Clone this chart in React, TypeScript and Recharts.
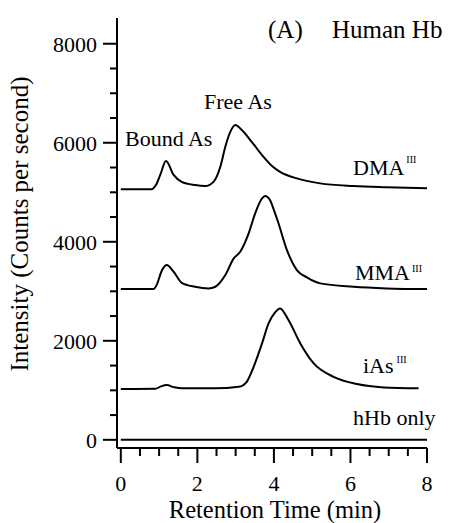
import { LineChart, Line, XAxis, YAxis } from 'recharts'

const FONT = 'Liberation Serif'

// retention time (min) / intensity (counts per second)
const dmaTime = [0, 0.8, 0.92, 1.03, 1.18, 1.38, 1.59, 1.94, 2.2, 2.42, 2.6, 2.73, 2.86, 2.99, 3.16, 3.42, 3.69, 3.95, 4.16, 4.6, 5.21, 6.08, 6.95, 8]
const dmaCounts = [5060, 5060, 5150, 5350, 5630, 5350, 5210, 5145, 5125, 5210, 5515, 5920, 6220, 6360, 6260, 6020, 5750, 5530, 5414, 5280, 5180, 5125, 5100, 5080]

const mmaTime = [0, 0.85, 0.95, 1.05, 1.2, 1.38, 1.59, 1.94, 2.29, 2.47, 2.73, 2.95, 3.12, 3.34, 3.51, 3.69, 3.77, 3.9, 4.0, 4.1, 4.34, 4.6, 4.86, 5.21, 6.08, 6.95, 8]
const mmaCounts = [3045, 3045, 3150, 3380, 3530, 3395, 3172, 3092, 3059, 3092, 3328, 3665, 3800, 4170, 4574, 4877, 4924, 4840, 4640, 4420, 3833, 3429, 3281, 3160, 3092, 3059, 3045]

const iasTime = [0, 0.9, 1.05, 1.2, 1.4, 1.6, 2.47, 3.08, 3.29, 3.47, 3.69, 3.86, 4.02, 4.16, 4.38, 4.69, 5.04, 5.56, 6.17, 6.87, 7.78]
const iasCounts = [1025, 1030, 1080, 1105, 1060, 1040, 1040, 1071, 1172, 1475, 1948, 2352, 2566, 2655, 2419, 1948, 1544, 1273, 1126, 1059, 1040]

const hhbTime = [0, 2, 4, 6, 8]
const hhbCounts = [0, 0, 0, 0, 0]

const xTicks = [0, 0.5, 1, 1.5, 2, 2.5, 3, 3.5, 4, 4.5, 5, 5.5, 6, 6.5, 7, 7.5, 8]
const xLabeled = [0, 2, 4, 6, 8]
const yTicks = [0, 500, 1000, 1500, 2000, 2500, 3000, 3500, 4000, 4500, 5000, 5500, 6000, 6500, 7000, 7500, 8000]
const yLabeled = [0, 2000, 4000, 6000, 8000]

const toRows = (t: number[], v: number[]) => t.map((time, i) => ({ time, counts: v[i] }))

const series = [
  { name: 'DMA', data: toRows(dmaTime, dmaCounts) },
  { name: 'MMA', data: toRows(mmaTime, mmaCounts) },
  { name: 'iAs', data: toRows(iasTime, iasCounts) },
  { name: 'hHb', data: toRows(hhbTime, hhbCounts) },
]

function XTick({ x, y, payload }: any) {
  const major = xLabeled.includes(payload.value)
  return (
    <g>
      <line x1={x} x2={x} y1={y} y2={y + (major ? 15 : 8)} stroke="#000" strokeWidth={2} />
      {major && (
        <text x={x} y={y + 43} textAnchor="middle" fontFamily={FONT} fontSize={22} fill="#000">
          {payload.value}
        </text>
      )}
    </g>
  )
}

function YTick({ x, y, payload }: any) {
  const major = yLabeled.includes(payload.value)
  return (
    <g>
      <line x1={x - (major ? 14 : 7)} x2={x} y1={y} y2={y} stroke="#000" strokeWidth={2} />
      {major && (
        <text x={x - 20} y={y + 8} textAnchor="end" fontFamily={FONT} fontSize={22} fill="#000">
          {payload.value}
        </text>
      )}
    </g>
  )
}

function XTitle({ viewBox }: any) {
  return (
    <text x={viewBox.x + viewBox.width / 2 + 3} y={viewBox.y + viewBox.height - 5} textAnchor="middle" fontFamily={FONT} fontSize={24.5} fill="#000">
      Retention Time (min)
    </text>
  )
}

function YTitle({ viewBox }: any) {
  const cx = viewBox.x + 28
  const cy = viewBox.y + viewBox.height / 2 - 9
  return (
    <text x={cx} y={cy} transform={`rotate(-90, ${cx}, ${cy})`} textAnchor="middle" fontFamily={FONT} fontSize={25} fill="#000">
      Intensity (Counts per second)
    </text>
  )
}

export default function App() {
  return (
    <div style={{ position: 'absolute', left: 0, top: 0, fontFamily: FONT }}>
      <LineChart width={449} height={523} margin={{ top: 18, right: 22, bottom: 0, left: 0 }}>
        <XAxis
          dataKey="time"
          type="number"
          domain={[-0.1, 8]}
          ticks={xTicks}
          tick={<XTick />}
          tickLine={false}
          tickSize={0}
          tickMargin={0}
          interval={0}
          height={75}
          axisLine={{ stroke: '#000', strokeWidth: 2 }}
          allowDuplicatedCategory={false}
          label={<XTitle />}
        />
        <YAxis
          dataKey="counts"
          type="number"
          domain={[-165, 8520]}
          ticks={yTicks}
          tick={<YTick />}
          tickLine={false}
          tickSize={0}
          tickMargin={0}
          interval={0}
          width={117}
          axisLine={{ stroke: '#000', strokeWidth: 2 }}
          label={<YTitle />}
        />
        {series.map((s) => (
          <Line
            key={s.name}
            data={s.data}
            dataKey="counts"
            type="monotone"
            stroke="#000"
            strokeWidth={2}
            dot={false}
            isAnimationActive={false}
          />
        ))}
        <text x={268} y={38} fontFamily={FONT} fontSize={25} fill="#000">(A)</text>
        <text x={332} y={38} fontFamily={FONT} fontSize={25} fill="#000">Human Hb</text>
        <text x={204} y={109} fontFamily={FONT} fontSize={22} fill="#000">Free As</text>
        <text x={125} y={146} fontFamily={FONT} fontSize={22} fill="#000">Bound As</text>
        <text x={353} y={175} fontFamily={FONT} fontSize={22} fill="#000">
          DMA<tspan dx={2} dy={-12} fontSize={10}>III</tspan>
        </text>
        <text x={355} y={280} fontFamily={FONT} fontSize={22} fill="#000">
          MMA<tspan dx={2} dy={-8} fontSize={10}>III</tspan>
        </text>
        <text x={363} y={373} fontFamily={FONT} fontSize={22} fill="#000">
          iAs<tspan dx={3} dy={-10} fontSize={10}>III</tspan>
        </text>
        <text x={353} y={425} fontFamily={FONT} fontSize={22} fill="#000">hHb only</text>
      </LineChart>
    </div>
  )
}
